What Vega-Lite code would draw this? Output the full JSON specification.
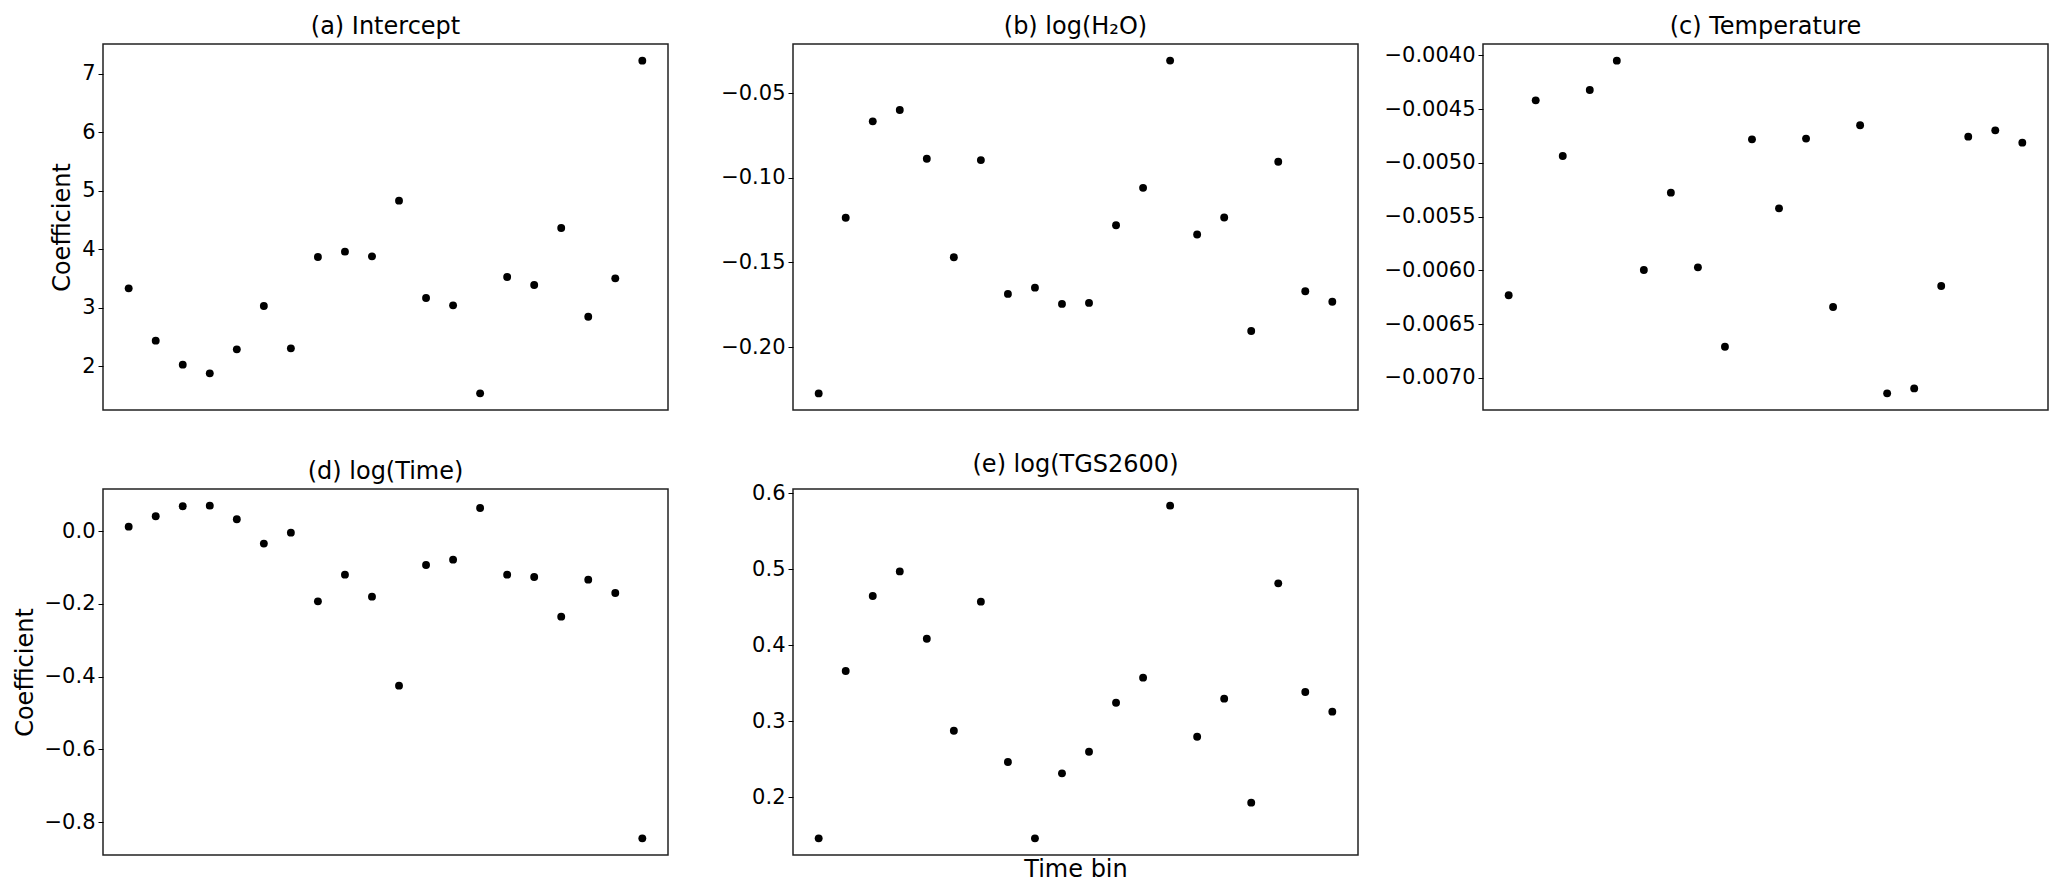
{
  "$schema": "https://vega.github.io/schema/vega-lite/v6.json",
  "padding": {"left": 12, "top": 14, "right": 0, "bottom": 0},
  "background": "white",
  "datasets": {
    "coef": [
      {"panel": "a", "bin": 1, "value": 3.334}, {"panel": "a", "bin": 2, "value": 2.439}, {"panel": "a", "bin": 3, "value": 2.029}, {"panel": "a", "bin": 4, "value": 1.88}, {"panel": "a", "bin": 5, "value": 2.291}, {"panel": "a", "bin": 6, "value": 3.032}, {"panel": "a", "bin": 7, "value": 2.308}, {"panel": "a", "bin": 8, "value": 3.87}, {"panel": "a", "bin": 9, "value": 3.961}, {"panel": "a", "bin": 10, "value": 3.881}, {"panel": "a", "bin": 11, "value": 4.834}, {"panel": "a", "bin": 12, "value": 3.169}, {"panel": "a", "bin": 13, "value": 3.043}, {"panel": "a", "bin": 14, "value": 1.538}, {"panel": "a", "bin": 15, "value": 3.528}, {"panel": "a", "bin": 16, "value": 3.391}, {"panel": "a", "bin": 17, "value": 4.366}, {"panel": "a", "bin": 18, "value": 2.849}, {"panel": "a", "bin": 19, "value": 3.505}, {"panel": "a", "bin": 20, "value": 7.228},
      {"panel": "b", "bin": 1, "value": -0.2274}, {"panel": "b", "bin": 2, "value": -0.1236}, {"panel": "b", "bin": 3, "value": -0.0666}, {"panel": "b", "bin": 4, "value": -0.0599}, {"panel": "b", "bin": 5, "value": -0.0887}, {"panel": "b", "bin": 6, "value": -0.1469}, {"panel": "b", "bin": 7, "value": -0.0895}, {"panel": "b", "bin": 8, "value": -0.1686}, {"panel": "b", "bin": 9, "value": -0.1649}, {"panel": "b", "bin": 10, "value": -0.1745}, {"panel": "b", "bin": 11, "value": -0.1739}, {"panel": "b", "bin": 12, "value": -0.128}, {"panel": "b", "bin": 13, "value": -0.1059}, {"panel": "b", "bin": 14, "value": -0.0307}, {"panel": "b", "bin": 15, "value": -0.1335}, {"panel": "b", "bin": 16, "value": -0.1234}, {"panel": "b", "bin": 17, "value": -0.1905}, {"panel": "b", "bin": 18, "value": -0.0905}, {"panel": "b", "bin": 19, "value": -0.167}, {"panel": "b", "bin": 20, "value": -0.1732},
      {"panel": "c", "bin": 1, "value": -0.006233}, {"panel": "c", "bin": 2, "value": -0.004419}, {"panel": "c", "bin": 3, "value": -0.004937}, {"panel": "c", "bin": 4, "value": -0.004323}, {"panel": "c", "bin": 5, "value": -0.00405}, {"panel": "c", "bin": 6, "value": -0.005998}, {"panel": "c", "bin": 7, "value": -0.005278}, {"panel": "c", "bin": 8, "value": -0.005973}, {"panel": "c", "bin": 9, "value": -0.006711}, {"panel": "c", "bin": 10, "value": -0.004782}, {"panel": "c", "bin": 11, "value": -0.005424}, {"panel": "c", "bin": 12, "value": -0.004775}, {"panel": "c", "bin": 13, "value": -0.006342}, {"panel": "c", "bin": 14, "value": -0.004651}, {"panel": "c", "bin": 15, "value": -0.007145}, {"panel": "c", "bin": 16, "value": -0.007099}, {"panel": "c", "bin": 17, "value": -0.006146}, {"panel": "c", "bin": 18, "value": -0.004757}, {"panel": "c", "bin": 19, "value": -0.004698}, {"panel": "c", "bin": 20, "value": -0.004813},
      {"panel": "d", "bin": 1, "value": 0.0128}, {"panel": "d", "bin": 2, "value": 0.0413}, {"panel": "d", "bin": 3, "value": 0.0688}, {"panel": "d", "bin": 4, "value": 0.0706}, {"panel": "d", "bin": 5, "value": 0.033}, {"panel": "d", "bin": 6, "value": -0.0339}, {"panel": "d", "bin": 7, "value": -0.0037}, {"panel": "d", "bin": 8, "value": -0.1927}, {"panel": "d", "bin": 9, "value": -0.1193}, {"panel": "d", "bin": 10, "value": -0.1798}, {"panel": "d", "bin": 11, "value": -0.4248}, {"panel": "d", "bin": 12, "value": -0.0927}, {"panel": "d", "bin": 13, "value": -0.078}, {"panel": "d", "bin": 14, "value": 0.0642}, {"panel": "d", "bin": 15, "value": -0.1193}, {"panel": "d", "bin": 16, "value": -0.1257}, {"panel": "d", "bin": 17, "value": -0.2349}, {"panel": "d", "bin": 18, "value": -0.133}, {"panel": "d", "bin": 19, "value": -0.1697}, {"panel": "d", "bin": 20, "value": -0.845},
      {"panel": "e", "bin": 1, "value": 0.1461}, {"panel": "e", "bin": 2, "value": 0.366}, {"panel": "e", "bin": 3, "value": 0.4646}, {"panel": "e", "bin": 4, "value": 0.497}, {"panel": "e", "bin": 5, "value": 0.4085}, {"panel": "e", "bin": 6, "value": 0.2876}, {"panel": "e", "bin": 7, "value": 0.4572}, {"panel": "e", "bin": 8, "value": 0.2464}, {"panel": "e", "bin": 9, "value": 0.1461}, {"panel": "e", "bin": 10, "value": 0.2315}, {"panel": "e", "bin": 11, "value": 0.26}, {"panel": "e", "bin": 12, "value": 0.3244}, {"panel": "e", "bin": 13, "value": 0.3573}, {"panel": "e", "bin": 14, "value": 0.5834}, {"panel": "e", "bin": 15, "value": 0.2797}, {"panel": "e", "bin": 16, "value": 0.3297}, {"panel": "e", "bin": 17, "value": 0.193}, {"panel": "e", "bin": 18, "value": 0.4813}, {"panel": "e", "bin": 19, "value": 0.3384}, {"panel": "e", "bin": 20, "value": 0.3126}
    ]
  },
  "data": {"name": "coef"},
  "columns": 3,
  "spacing": {"row": 79, "column": 125},
  "bounds": "flush",
  "resolve": {"scale": {"y": "independent", "x": "independent"}},
  "concat": [
    {
      "title": "(a) Intercept",
      "width": 565, "height": 366,
      "transform": [{"filter": "datum.panel == 'a'"}],
      "mark": {"type": "circle", "size": 62, "color": "black", "opacity": 1},
      "encoding": {
        "x": {"field": "bin", "type": "quantitative", "scale": {"domain": [0.05, 20.95], "nice": false, "zero": false}, "axis": null},
        "y": {"field": "value", "type": "quantitative", "scale": {"domain": [1.2535, 7.5125], "nice": false, "zero": false}, "axis": {"title": "Coefficient", "values": [2, 3, 4, 5, 6, 7], "format": "d"}}
      }
    },
    {
      "title": "(b) log(H₂O)",
      "width": 565, "height": 366,
      "transform": [{"filter": "datum.panel == 'b'"}],
      "mark": {"type": "circle", "size": 62, "color": "black", "opacity": 1},
      "encoding": {
        "x": {"field": "bin", "type": "quantitative", "scale": {"domain": [0.05, 20.95], "nice": false, "zero": false}, "axis": null},
        "y": {"field": "value", "type": "quantitative", "scale": {"domain": [-0.2372, -0.0209], "nice": false, "zero": false}, "axis": {"title": null, "values": [-0.2, -0.15, -0.1, -0.05], "format": ".2f"}}
      }
    },
    {
      "title": "(c) Temperature",
      "width": 565, "height": 366,
      "transform": [{"filter": "datum.panel == 'c'"}],
      "mark": {"type": "circle", "size": 62, "color": "black", "opacity": 1},
      "encoding": {
        "x": {"field": "bin", "type": "quantitative", "scale": {"domain": [0.05, 20.95], "nice": false, "zero": false}, "axis": null},
        "y": {"field": "value", "type": "quantitative", "scale": {"domain": [-0.0073, -0.003895], "nice": false, "zero": false}, "axis": {"title": null, "values": [-0.007, -0.0065, -0.006, -0.0055, -0.005, -0.0045, -0.004], "format": ".4f"}}
      }
    },
    {
      "title": "(d) log(Time)",
      "width": 565, "height": 366,
      "transform": [{"filter": "datum.panel == 'd'"}],
      "mark": {"type": "circle", "size": 62, "color": "black", "opacity": 1},
      "encoding": {
        "x": {"field": "bin", "type": "quantitative", "scale": {"domain": [0.05, 20.95], "nice": false, "zero": false}, "axis": null},
        "y": {"field": "value", "type": "quantitative", "scale": {"domain": [-0.8908, 0.1164], "nice": false, "zero": false}, "axis": {"title": "Coefficient", "values": [-0.8, -0.6, -0.4, -0.2, 0], "format": ".1f"}}
      }
    },
    {
      "title": "(e) log(TGS2600)",
      "width": 565, "height": 366,
      "transform": [{"filter": "datum.panel == 'e'"}],
      "mark": {"type": "circle", "size": 62, "color": "black", "opacity": 1},
      "encoding": {
        "x": {"field": "bin", "type": "quantitative", "scale": {"domain": [0.05, 20.95], "nice": false, "zero": false}, "axis": {"title": "Time bin", "labels": false, "ticks": false, "domain": false, "grid": false, "titlePadding": 2}},
        "y": {"field": "value", "type": "quantitative", "scale": {"domain": [0.1242, 0.6053], "nice": false, "zero": false}, "axis": {"title": null, "values": [0.2, 0.3, 0.4, 0.5, 0.6], "format": ".1f"}}
      }
    }
  ],
  "config": {
    "font": "DejaVu Sans",
    "view": {"stroke": "#222222", "strokeWidth": 1.5},
    "title": {"fontSize": 24, "fontWeight": "normal", "color": "black", "offset": 5, "font": "DejaVu Sans"},
    "axis": {
      "grid": false, "domain": false,
      "labelFontSize": 21, "titleFontSize": 24, "labelFont": "DejaVu Sans", "titleFont": "DejaVu Sans",
      "labelColor": "black", "titleColor": "black", "titleFontWeight": "normal",
      "tickColor": "black", "tickSize": 5, "tickWidth": 1, "labelPadding": 3, "titlePadding": 7
    }
  }
}
